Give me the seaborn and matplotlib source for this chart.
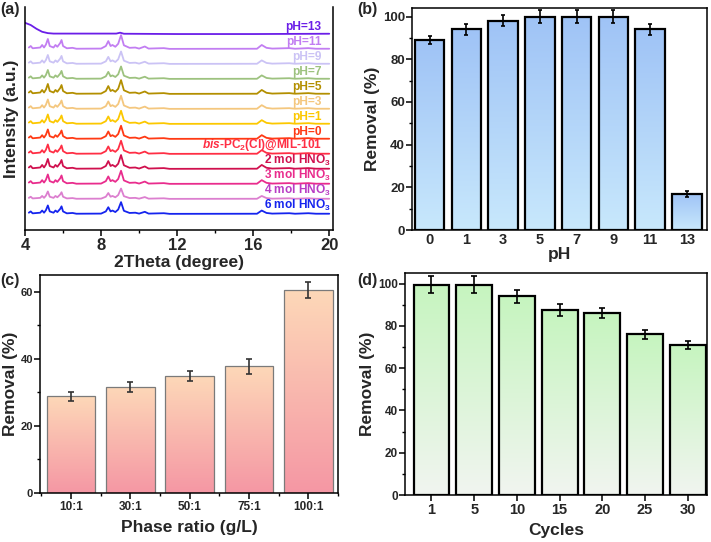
#!/usr/bin/env python3
"""XRD stability patterns and removal efficiency panels (a)-(d)."""

import numpy as np
import matplotlib
matplotlib.use("Agg")
import matplotlib.pyplot as plt
from matplotlib.colors import LinearSegmentedColormap
from matplotlib.ticker import MultipleLocator, FixedLocator
import seaborn as sns

# ---- data: (a) XRD patterns ----
# typical pattern (2theta, height above each baseline)
xrd_2theta = [4.2, 4.3, 4.4, 4.8, 4.9, 5.0, 5.1, 5.2, 5.3, 5.5, 5.6, 5.7, 5.85, 5.92,
              6.0, 6.2, 6.5, 6.7, 8.0, 8.25, 8.38, 8.5, 8.6, 8.75, 8.9, 9.05, 9.2,
              9.5, 9.8, 10.0, 10.3, 10.5, 11.3, 11.6, 16.2, 16.45, 16.7, 17.0, 17.9,
              18.2, 18.9, 19.3, 20.0]
xrd_profile = [0.10, 0.20, 0.05, 0.10, 0.27, 0.10, 0.30, 0.67, 0.20, 0.10, 0.27, 0.15,
               0.40, 0.60, 0.20, 0.05, 0.08, 0.02, 0.03, 0.20, 0.53, 0.20, 0.27, 0.15,
               0.35, 0.93, 0.25, 0.08, 0.10, 0.03, 0.17, 0.03, 0.06, 0.01, 0.02, 0.27,
               0.08, 0.03, 0.06, 0.02, 0.06, 0.02, 0.02]
# the pH=13 sample lost its crystallinity
ph13_2theta = [4.0, 4.3, 4.6, 4.9, 5.2, 5.5, 8.8, 9.0, 9.2, 12.0, 16.0, 20.0]
ph13_profile = [0.75, 0.60, 0.35, 0.15, 0.06, 0.03, 0.03, 0.09, 0.02, 0.0, 0.0, 0.02]

xrd_names = ['pH=13', 'pH=11', 'pH=9', 'pH=7', 'pH=5', 'pH=3', 'pH=1', 'pH=0',
             r'$\it{bis}$-PC$_2$(Cl)@MIL-101', '2 mol HNO$_3$', '3 mol HNO$_3$',
             '4 mol HNO$_3$', '6 mol HNO$_3$']
xrd_scale = [None, 1.0, 0.9, 0.9, 1.0, 0.95, 0.95, 0.95, 0.95, 1.0, 0.95, 0.75, 0.85]
xrd_colors = ['#6b1ee8', '#c27ef2', '#cbc3f5', '#9dc27f', '#b38f00', '#f4c77e',
              '#fcc800', '#ff3a14', '#ff2e44', '#d0104e', '#e92c8d', '#dc7fcf',
              '#1524ee']
label_colors = xrd_colors[:11] + ['#b83cc4', '#1524ee']

# ---- data: (b) removal vs pH ----
ph_labels = ['0', '1', '3', '5', '7', '9', '11', '13']
ph_removal = [89.0, 94.0, 98.0, 100.0, 100.0, 100.0, 94.0, 17.0]
ph_err = [2.0, 2.5, 2.5, 3.0, 3.0, 3.0, 2.5, 1.5]

# ---- data: (c) removal vs phase ratio ----
ratio_labels = ['10:1', '30:1', '50:1', '75:1', '100:1']
ratio_removal = [28.8, 31.7, 34.8, 37.8, 60.5]
ratio_err = [1.3, 1.5, 1.5, 2.2, 2.5]

# ---- data: (d) removal vs cycles ----
cycle_labels = ['1', '5', '10', '15', '20', '25', '30']
cycle_removal = [99.5, 99.5, 94.0, 87.5, 86.0, 76.0, 71.0]
cycle_err = [4.0, 4.0, 3.0, 3.0, 2.5, 2.0, 2.0]

sns.set_theme(style='white')
plt.rcParams['font.family'] = ['Liberation Sans', 'DejaVu Sans']
plt.rcParams['font.weight'] = 'bold'
plt.rcParams['mathtext.fontset'] = 'custom'
plt.rcParams['mathtext.rm'] = 'Liberation Sans:bold'
plt.rcParams['mathtext.it'] = 'Liberation Sans:italic:bold'
plt.rcParams['mathtext.bf'] = 'Liberation Sans:bold'
plt.rcParams['axes.linewidth'] = 1.1
plt.rcParams['axes.edgecolor'] = 'black'


def gradient_bars(ax, top, bottom):
    """Fill each bar with a vertical gradient clipped to the bar."""
    cmap = LinearSegmentedColormap.from_list('grad', [bottom, top])
    grad = np.linspace(0, 1, 256).reshape(-1, 1)
    for p in list(ax.patches):
        x0, y0, w, h = p.get_x(), p.get_y(), p.get_width(), p.get_height()
        im = ax.imshow(grad, cmap=cmap, origin='lower', aspect='auto',
                       extent=[x0, x0 + w, y0, y0 + h], zorder=0.8)
        im.set_clip_path(p)
        p.set_facecolor('none')
        p.set_zorder(1)


def style_axis(ax, xsize, ysize):
    ax.tick_params(axis='both', which='both', direction='out', color='black',
                   bottom=True, left=True)
    ax.tick_params(which='major', length=4, width=1.1)
    ax.tick_params(which='minor', length=2, width=1.0)
    ax.tick_params(axis='x', labelsize=xsize, pad=2)
    ax.tick_params(axis='y', labelsize=ysize, pad=1)
    for s in ax.spines.values():
        s.set_color('black')


def bar_panel(ax, labels, values, errs, top, bottom, edge, lw, width, cap, ecolor):
    sns.barplot(x=labels, y=values, order=labels, ax=ax, width=width,
                color=top, edgecolor=edge, linewidth=lw)
    gradient_bars(ax, top, bottom)
    ax.errorbar(np.arange(len(labels)), values, yerr=errs, fmt='none',
                ecolor=ecolor, elinewidth=1.2, capsize=cap, capthick=1.2, zorder=3)


fig = plt.figure(figsize=(7.11, 5.42), dpi=100)
ax_a = fig.add_axes([0.0352, 0.5756, 0.4332, 0.4114])
ax_b = fig.add_axes([0.5795, 0.5756, 0.4149, 0.4096])
ax_c = fig.add_axes([0.0563, 0.0904, 0.4191, 0.4022])
ax_d = fig.add_axes([0.5696, 0.0867, 0.4248, 0.4096])

# (a) XRD
n_traces = len(xrd_names)
for i, (name, scale, col, lcol) in enumerate(zip(xrd_names, xrd_scale, xrd_colors, label_colors)):
    offset = n_traces - 1 - i
    if scale is None:
        xs, ys = np.array(ph13_2theta), np.array(ph13_profile)
    else:
        xs, ys = np.array(xrd_2theta), np.array(xrd_profile) * scale
    sns.lineplot(x=xs, y=ys + offset, ax=ax_a, color=col, linewidth=1.3,
                 sort=False, estimator=None)
    xt = 20.1 if 'HNO' in name else 19.6
    ax_a.text(xt, offset + 0.08, name, color=lcol, ha='right', va='bottom',
              fontsize=8.6, fontweight='bold')
ax_a.set_xlim(4, 20.2)
ax_a.set_ylim(-1.07, 13.8)
ax_a.xaxis.set_major_locator(MultipleLocator(4))
ax_a.xaxis.set_minor_locator(MultipleLocator(2))
ax_a.set_yticks([])
ax_a.spines['top'].set_visible(False)
style_axis(ax_a, 12, 9)
ax_a.set_xlabel('2Theta (degree)', fontsize=12.5, fontweight='bold', labelpad=1)
ax_a.set_ylabel('Intensity (a.u.)', fontsize=12.5, fontweight='bold', labelpad=4)

# (b) pH
bar_panel(ax_b, ph_labels, ph_removal, ph_err, '#9fc3f6', '#c8e8fc',
          'black', 1.6, 0.8, 1.6, 'black')
ax_b.set_xlim(-0.48, 7.55)
ax_b.set_ylim(0, 104)
ax_b.yaxis.set_major_locator(MultipleLocator(20))
ax_b.yaxis.set_minor_locator(MultipleLocator(10))
style_axis(ax_b, 10.5, 9.5)
ax_b.tick_params(axis='x', length=0)
ax_b.set_xlabel('pH', fontsize=12.5, fontweight='bold', labelpad=0)
ax_b.set_ylabel('Removal (%)', fontsize=12.5, fontweight='bold', labelpad=2)

# (c) phase ratio
bar_panel(ax_c, ratio_labels, ratio_removal, ratio_err, '#fdd8b8', '#f597a4',
          '#7a7a7a', 0.9, 0.82, 2.5, '#333333')
ax_c.set_xlim(-0.52, 4.5)
ax_c.set_ylim(0, 65)
ax_c.yaxis.set_major_locator(MultipleLocator(20))
ax_c.yaxis.set_minor_locator(MultipleLocator(10))
ax_c.xaxis.set_minor_locator(FixedLocator(np.arange(len(ratio_labels) + 1) - 0.5))
style_axis(ax_c, 8.5, 8)
ax_c.set_xlabel('Phase ratio (g/L)', fontsize=12.5, fontweight='bold', labelpad=5)
ax_c.set_ylabel('Removal (%)', fontsize=12.5, fontweight='bold', labelpad=2)

# (d) cycles
bar_panel(ax_d, cycle_labels, cycle_removal, cycle_err, '#c6f4bf', '#f1f5f0',
          'black', 1.6, 0.84, 2.5, 'black')
ax_d.set_xlim(-0.62, 6.45)
ax_d.set_ylim(0, 105)
ax_d.yaxis.set_major_locator(MultipleLocator(20))
ax_d.yaxis.set_minor_locator(MultipleLocator(10))
style_axis(ax_d, 10.5, 8.5)
ax_d.set_xlabel('Cycles', fontsize=12.5, fontweight='bold', labelpad=4)
ax_d.set_ylabel('Removal (%)', fontsize=12.5, fontweight='bold', labelpad=2)

for ax in (ax_b, ax_c, ax_d):
    for lab in ax.get_xticklabels() + ax.get_yticklabels():
        lab.set_fontweight('bold')
for lab in ax_a.get_xticklabels():
    lab.set_fontweight('bold')

# panel letters
fig.text(0.001, 0.997, '(a)', fontsize=11.5, fontweight='bold', va='top')
fig.text(0.502, 0.997, '(b)', fontsize=11.5, fontweight='bold', va='top')
fig.text(0.001, 0.497, '(c)', fontsize=11.5, fontweight='bold', va='top')
fig.text(0.502, 0.497, '(d)', fontsize=11.5, fontweight='bold', va='top')

fig.savefig('out.png', dpi=100)
